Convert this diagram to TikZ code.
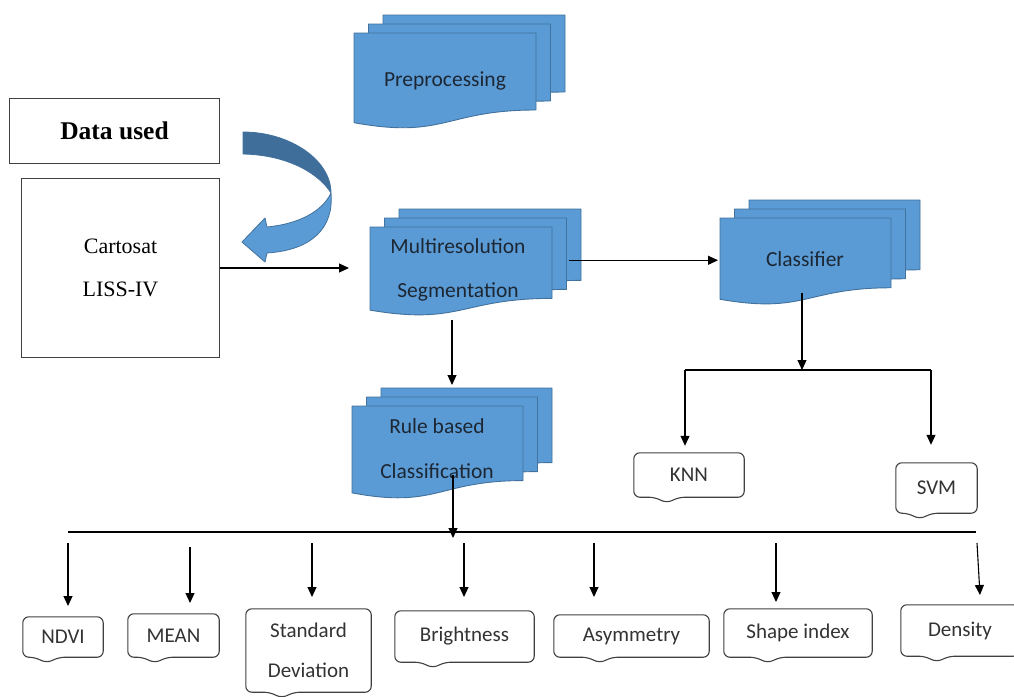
\documentclass[tikz,border=0pt]{standalone}
\usepackage{fontspec}
\setmainfont{Carlito}
\newfontfamily\serifx{Liberation Serif}
\usetikzlibrary{arrows.meta,calc}
\definecolor{docfill}{HTML}{5B9BD5}
\definecolor{docline}{HTML}{41719C}
\definecolor{darkarc}{HTML}{3F6E9A}
\definecolor{doctext}{HTML}{1C2733}
\definecolor{boxline}{HTML}{404040}
\definecolor{labeltext}{HTML}{333333}
\tikzset{
  docst/.style={fill=docfill, draw=docline, line width=0.9pt, line join=round},
  doctxt/.style={text=doctext, font=\fontsize{21.5}{44}\selectfont, align=center, inner sep=0pt},
  frame/.style={draw=boxline, line width=1pt, inner sep=0pt},
  arr/.style={draw=black, line width=1.1pt, -{Triangle[length=10pt,width=9pt]}},
  plain/.style={draw=black, line width=1.1pt},
  callbox/.style={inner sep=0pt, text=labeltext, font=\fontsize{21}{40}\selectfont, align=center},
  callline/.style={draw=boxline, line width=1.1pt, rounded corners=6pt},
  anchorbox/.style={inner sep=0pt, outer sep=0pt},
}
\newcommand{\docsheet}[4]{%
  \draw[docst] ({#1},{#2}) -- ({#1+#3},{#2}) -- ({#1+#3},{#2+0.802*#4})
    .. controls ({#1+0.5*#3},{#2+0.802*#4}) and ({#1+0.5*#3},{#2+1.107*#4}) .. ({#1},{#2+0.934*#4}) -- cycle;}
\newcommand{\docstack}[5]{% name, left, top, width, height
  \docsheet{#2+29}{#3-18}{#4}{#5}
  \docsheet{#2+14.5}{#3-9}{#4}{#5}
  \docsheet{#2}{#3}{#4}{#5}
  \node[anchorbox, minimum width={#4+29}, minimum height={0.95*#5+18}, anchor=north west] (#1) at ({#2},{#3-18}) {};}
\newcommand{\callout}[7]{% name, cx, cy, w, h, pointer offset, text
  \node[callbox, minimum width={#4}, minimum height={#5}] (#1) at (#2,#3) {#7};
  \draw[callline] ($(#1.south west)+({#6},0)$) -- (#1.south west) -- (#1.north west) -- (#1.north east)
    -- (#1.south east) -- ($(#1.south west)+({#6+24},0)$) -- ($(#1.south west)+({#6+12},6)$) -- cycle;}
\begin{document}
\begin{tikzpicture}[x=1pt,y=-1pt]
\useasboundingbox (0,0) rectangle (1014,696);
\fill[white] (0,0) rectangle (1014,696);

% left boxes
\node[frame, minimum width=210, minimum height=65, anchor=north west,
      font=\serifx\bfseries\fontsize{25.5}{30}\selectfont] (data) at (9,98) {Data used};
\node[frame, minimum width=198, minimum height=179, anchor=north west, align=center,
      font=\serifx\fontsize{22}{43}\selectfont] (carto) at (21,178) {Cartosat\\LISS-IV};

% curved arrow
\draw[fill=darkarc, draw=docline, line width=0.8pt, line join=round]
  (243,132) .. controls (290,132) and (331,160) .. (331,193)
  .. controls (320,175) and (290,155) .. (243,154) -- cycle;
\draw[fill=docfill, draw=docline, line width=0.8pt, line join=round]
  (331,193) .. controls (334,228) and (312,250) .. (267,253) -- (265,262) -- (242,242)
  -- (265,218) -- (267,227) .. controls (298,224) and (322,212) .. (331,193) -- cycle;

% document stacks
\docstack{pre}{354}{33}{182}{96}
\docstack{mrs}{370}{227}{182}{89}
\docstack{cls}{720}{218}{171}{87}
\docstack{rule}{352}{406}{171}{93}

\node[doctxt] (pretext) at (445,81) {Preprocessing};
\node[doctxt] (mrstext) at (458,270) {Multiresolution\\Segmentation};
\node[doctxt] (clstext) at (805,259) {Classifier};
\node[doctxt, font=\fontsize{21.5}{45}\selectfont] (ruletext) at (437,449) {Rule based\\Classification};

% callouts
\callout{knn}{689}{475}{110}{44}{21}{KNN}
\callout{svm}{936.5}{488}{81}{50}{12}{SVM}
\callout{ndvi}{63}{637}{80}{40}{12}{NDVI}
\callout{mean}{173.5}{635.5}{91}{43}{15}{MEAN}
\callout{std}{308.5}{650.5}{125}{83}{24}{Standard\\Deviation}
\callout{bri}{464.5}{636.5}{139}{51}{26}{Brightness}
\callout{asy}{631.5}{636}{155}{42}{34}{Asymmetry}
\callout{shp}{798}{633}{148}{48}{32}{Shape index}
\callout{den}{960}{630.5}{118}{51}{24}{Density}

% junction coordinates
\coordinate (mrsout) at ([xshift=-12pt]mrs.east);
\coordinate (mrsdown) at (452,320);
\coordinate (rulein) at (452,385);
\coordinate (ruledown) at (453,475);
\coordinate (busin) at (453,538);
\coordinate (busL) at (68,532);
\coordinate (busR) at (976,532);
\coordinate (clsout) at (802,293);
\coordinate (splitM) at (802,370);
\coordinate (splitL) at (685,370);
\coordinate (splitR) at (931,370);

% connectors
\draw[arr, shorten >=21pt] (carto.east) -- (carto.east -| mrs.west);
\draw[arr, shorten >=2pt] (mrsout) -- (mrsout -| cls.west);
\draw[arr] (mrsdown) -- (rulein);
\draw[arr] (ruledown) -- (busin);
\draw[plain] (busL) -- (busR);
\draw[arr] (clsout) -- (splitM);
\draw[plain] (splitL) -- (splitR);
\draw[arr, shorten >=7pt] (splitL) -- (splitL |- knn.north);
\draw[arr, shorten >=18pt] (splitR) -- (splitR |- svm.north);

% feature arrows
\coordinate (f1a) at (68,543);  \coordinate (f1b) at (68,606);
\coordinate (f2a) at (190,547); \coordinate (f2b) at (190,603);
\coordinate (f3a) at (312,543); \coordinate (f3b) at (312,597);
\coordinate (f4a) at (464,543); \coordinate (f4b) at (464,597);
\coordinate (f5a) at (594,543); \coordinate (f5b) at (594,597);
\coordinate (f6a) at (776,543); \coordinate (f6b) at (776,602);
\coordinate (f7a) at (977,543); \coordinate (f7b) at (980,595);
\foreach \i in {1,...,7} {\draw[arr] (f\i a) -- (f\i b);}
\end{tikzpicture}
\end{document}
